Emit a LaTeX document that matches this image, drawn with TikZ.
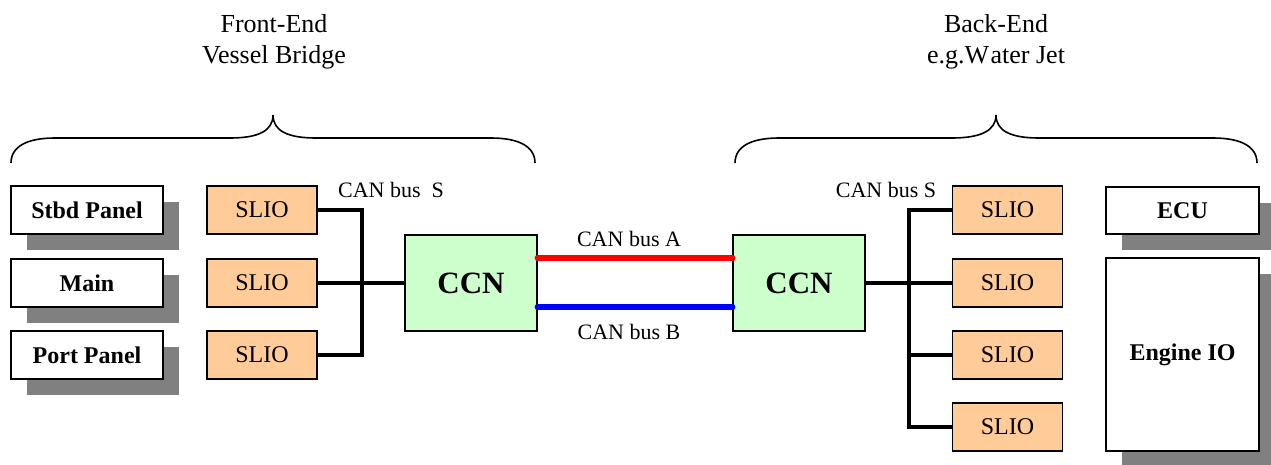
\documentclass[tikz,border=0pt]{standalone}
\usepackage{fontspec}
\setmainfont{Liberation Serif}
\usepackage{xcolor}
\usepackage{tikz}
\usetikzlibrary{positioning,shadows,calc}

\definecolor{sliofill}{HTML}{FFCC99}
\definecolor{ccnfill}{HTML}{CCFFCC}
\definecolor{shadowgray}{HTML}{808080}

\begin{document}
\begin{tikzpicture}[
  x=1pt, y=-1pt,
  panel/.style={draw, fill=white, line width=1.6pt, minimum width=152pt, minimum height=48pt,
    font=\fontsize{24pt}{28pt}\selectfont\bfseries, inner sep=0pt,
    drop shadow={shadow xshift=16pt, shadow yshift=-16pt, fill=shadowgray, opacity=1}},
  slio/.style={draw, fill=sliofill, line width=1.6pt, minimum width=110pt, minimum height=48pt,
    font=\fontsize{24pt}{28pt}\selectfont, inner sep=0pt},
  ccn/.style={draw, fill=ccnfill, line width=1.6pt, minimum width=132pt, minimum height=96pt,
    font=\fontsize{31pt}{36pt}\selectfont\bfseries, inner sep=0pt},
  title/.style={align=center, font=\fontsize{26pt}{31pt}\selectfont, inner sep=0pt},
  lbl/.style={font=\fontsize{22pt}{26pt}\selectfont, inner sep=0pt},
  bus/.style={line width=4pt},
  wire/.style={line width=6.5pt, line cap=round},
  brace/.style={line width=1.6pt}
]
\useasboundingbox (0,0) rectangle (1271,464);

% group headings and braces
\node[title] (front) at (274,42) {Front-End\\Vessel Bridge};
\node[title] (back) at (996,42) {Back-End\\e.g.W\kern1.5pt ater Jet};

\draw[brace] (11,163) .. controls (11,146) and (28,138) .. (55,138) -- (230,138)
  .. controls (258,138) and (273,131) .. (273,115)
  .. controls (273,131) and (288,138) .. (316,138) -- (491,138)
  .. controls (518,138) and (535,146) .. (535,163);
\draw[brace] (735,163) .. controls (735,146) and (752,138) .. (779,138) -- (952,138)
  .. controls (980,138) and (996,131) .. (996,115)
  .. controls (996,131) and (1011,138) .. (1039,138) -- (1213,138)
  .. controls (1240,138) and (1257,146) .. (1257,163);

% front-end side
\node[panel] (stbd) at (87,210) {Stbd Panel};
\node[panel] (main) at (87,283) {Main};
\node[panel] (port) at (87,355) {Port Panel};

\node[slio] (slioL1) at (262,210) {SLIO};
\node[slio] (slioL2) at (262,283) {SLIO};
\node[slio] (slioL3) at (262,355) {SLIO};

\node[ccn] (ccnL) at (471,283) {CCN};
\node[lbl] (busSL) at (391,190) {CAN bus\ \ S};

\coordinate (tapL) at (362,283);
\draw[bus] (slioL1.east) -| (tapL) |- (slioL3.east);
\draw[bus] (slioL2.east) -- (ccnL.west);

% back-end side
\node[ccn] (ccnR) at (799,283) {CCN};
\node[lbl] (busSR) at (886,190) {CAN bus S};

\node[slio] (slioR1) at (1007.5,210) {SLIO};
\node[slio] (slioR2) at (1007.5,283) {SLIO};
\node[slio] (slioR3) at (1007.5,355) {SLIO};
\node[slio] (slioR4) at (1007.5,427) {SLIO};

\node[panel, minimum width=153pt, minimum height=47pt] (ecu) at (1182.5,210.5) {ECU};
\node[panel, minimum width=153pt, minimum height=193pt] (engine) at (1182.5,354.5) {Engine IO};

\coordinate (tapR) at (909,283);
\draw[bus] (ccnR.east) -- (slioR2.west);
\draw[bus] (slioR1.west) -| (tapR) |- (slioR4.west);
\draw[bus] (tapR |- slioR3.west) -- (slioR3.west);

% redundant CAN link between the two CCNs
\draw[wire, red] ([yshift=25pt]ccnL.east) -- node[lbl, above=8pt, xshift=-6pt, text=black]{CAN bus A} ([yshift=25pt]ccnR.west);
\draw[wire, blue] ([yshift=-24pt]ccnL.east) -- node[lbl, below=14pt, xshift=-6pt, text=black]{CAN bus B} ([yshift=-24pt]ccnR.west);
\end{tikzpicture}
\end{document}
